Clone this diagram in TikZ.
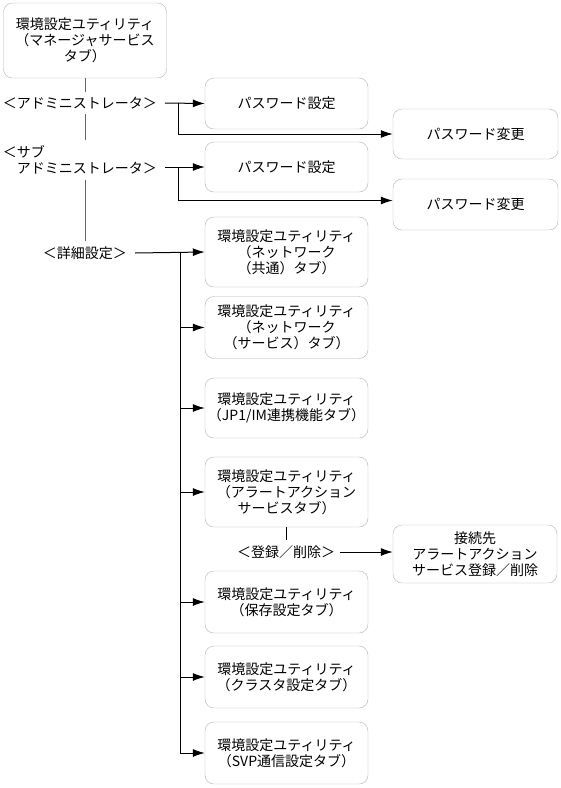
\documentclass[tikz,border=0pt]{standalone}
\usepackage{fontspec}
\setmainfont{Noto Sans CJK JP}
\usepackage{tikz}
\usetikzlibrary{arrows.meta}

\begin{document}
\begin{tikzpicture}[x = 1pt, y = -1pt, >={Latex[length=12pt, width=8pt]},
	font = \fontsize{14pt}{16pt}\selectfont,
	box/.style = {draw = black!30, rounded corners = 9pt, align = center, inner sep = 0pt, minimum width = 163pt},
	lbl/.style = {inner xsep = 8pt, inner ysep = 5pt},
	lead/.style = {black!60, line width = 1pt},
	arw/.style = {->, black, line width = 1pt}]
	\useasboundingbox (0,0) rectangle (561,788);
	% tool boxes
	\node [box, minimum height = 75pt] (mgr) at (85,40.5) {環境設定ユティリティ\\（マネージャサービス\\タブ）};
	\node [box, minimum height = 51pt] (pw1) at (286.5,103.5) {パスワード設定};
	\node [box, minimum height = 50pt, minimum width = 165pt] (chg1) at (475.5,134) {パスワード変更};
	\node [box, minimum height = 50pt] (pw2) at (286.5,167) {パスワード設定};
	\node [box, minimum height = 51pt, minimum width = 165pt] (chg2) at (475.5,204.5) {パスワード変更};
	\node [box, minimum height = 70pt] (sv1) at (286.5,252) {環境設定ユティリティ\\（ネットワーク\\（共通）タブ）};
	\node [box, minimum height = 62pt] (sv2) at (286.5,327.5) {環境設定ユティリティ\\（ネットワーク\\（サービス）タブ）};
	\node [box, minimum height = 60pt] (sv3) at (286.5,408) {環境設定ユティリティ\\（JP1/IM連携機能タブ）};
	\node [box, minimum height = 70pt] (sv4) at (286.5,492) {環境設定ユティリティ\\（アラートアクション\\サービスタブ）};
	\node [box, minimum height = 58pt, minimum width = 164pt] (conn) at (475,554) {接続先\\アラートアクション\\サービス登録／削除};
	\node [box, minimum height = 62pt] (sv5) at (286.5,602) {環境設定ユティリティ\\（保存設定タブ）};
	\node [box, minimum height = 62pt] (sv6) at (286.5,677) {環境設定ユティリティ\\（クラスタ設定タブ）};
	\node [box, minimum height = 62pt] (sv7) at (286.5,753) {環境設定ユティリティ\\（SVP通信設定タブ）};
	% menu labels
	\node [lbl, anchor = east] (adm) at (165,103) {＜アドミニストレータ＞};
	\node [lbl, anchor = east, align = left] (sub) at (165,160) {＜サブ\\　アドミニストレータ＞};
	\node [lbl, anchor = east] (det) at (135,253) {＜詳細設定＞};
	\node [lbl, inner xsep = 5pt] (reg) at (286,552) {＜登録／削除＞};
	\coordinate (j1) at (178,103);
	\coordinate (j2) at (178,167);
	\coordinate (tr) at (180,253);
	% menu tree
	\draw [lead] (mgr.south) -- (mgr.south |- adm.north);
	\draw [lead] (mgr.south |- adm.south) -- (mgr.south |- sub.north);
	\draw [lead] (mgr.south |- sub.south) -- (mgr.south |- det.north);
	\draw [arw] (adm.east) -- (pw1.west);
	\draw [arw] (j1) |- (chg1.west);
	\draw [arw] (sub.east |- pw2.west) -- (pw2.west);
	\draw [arw] (j2) |- ([yshift = 4pt]chg2.west);
	\draw [arw] (det.east) -- (sv1.west);
	\draw [black, line width = 1pt] (tr) -- (tr |- sv7.west);
	\foreach \n in {2,...,7}
		\draw [arw] (tr |- sv\n.west) -- (sv\n.west);
	\draw [black, line width = 1pt] (sv4.south) -- (sv4.south |- reg.north);
	\draw [arw] (reg.east) -- (reg.east -| conn.west);
\end{tikzpicture}
\end{document}
